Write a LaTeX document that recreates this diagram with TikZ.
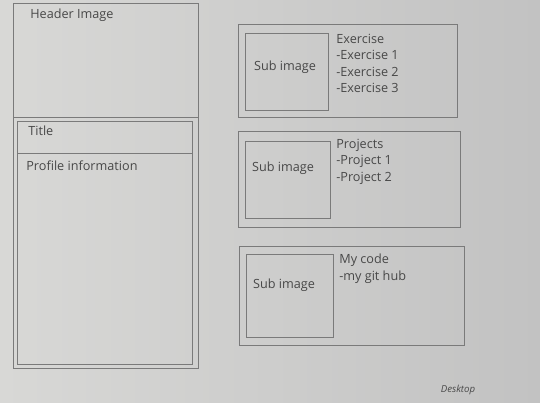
\documentclass[tikz,border=0pt]{standalone}
\usepackage{fontspec}
\setmainfont{Open Sans}
\usepackage{tikz}
\usetikzlibrary{positioning}
\definecolor{paper}{RGB}{206, 206, 204}
\definecolor{paperlight}{RGB}{216, 216, 214}
\definecolor{paperdark}{RGB}{194, 194, 194}
\definecolor{wireline}{RGB}{122, 122, 122}
\definecolor{wiretext}{RGB}{72, 72, 72}

\begin{document}
\begin{tikzpicture}[
    y=-1cm,
    wire/.style={rectangle, draw=wireline, line width=0.6pt, anchor=north west, inner sep=0pt, minimum width=#1},
    txt/.style={text=wiretext, font=\fontsize{7.2}{9.3}\selectfont, inner sep=0pt},
    list/.style={txt, anchor=north west, align=left},
    every node/.style={font=\fontsize{7.2}{9.3}\selectfont}
]
% paper background
\shade[left color=paperlight, right color=paperdark] (0,0) rectangle (10.8,8.06);
\useasboundingbox (0,0) rectangle (10.8,8.06);

% left column: header + sidebar
\node[wire=3.70cm, minimum height=2.28cm] (header) at (0.26, 0.06) {};
\node[wire=3.70cm, minimum height=5.02cm] (sidebar) at (0.26, 2.34) {};
\node[wire=3.50cm, minimum height=0.64cm] (title) at (0.33, 2.42) {};
\node[wire=3.50cm, minimum height=4.22cm] (profile) at (0.33, 3.06) {};

\node[txt, anchor=west] (headertxt) at (0.60, 0.30) {Header Image};
\node[txt, anchor=west] (titletxt) at (0.56, 2.61) {Title};
\node[txt, anchor=west] (profiletxt) at (0.52, 3.31) {Profile information};

% right column: three cards
\node[wire=4.38cm, minimum height=1.86cm] (card1) at (4.76, 0.48) {};
\node[wire=1.66cm, minimum height=1.54cm] (sub1) at (4.90, 0.66) {};
\node[txt] (sub1txt) at (5.70, 1.34) {Sub image};
\node[list] (list1) at (6.72, 0.68) {Exercise\\-Exercise 1\\-Exercise 2\\-Exercise 3};

\node[wire=4.44cm, minimum height=1.92cm] (card2) at (4.76, 2.62) {};
\node[wire=1.70cm, minimum height=1.54cm] (sub2) at (4.90, 2.82) {};
\node[txt] (sub2txt) at (5.66, 3.36) {Sub image};
\node[list] (list2) at (6.72, 2.78) {Projects\\-Project 1\\-Project 2};

\node[wire=4.50cm, minimum height=1.98cm] (card3) at (4.78, 4.92) {};
\node[wire=1.74cm, minimum height=1.66cm] (sub3) at (4.92, 5.08) {};
\node[txt] (sub3txt) at (5.68, 5.70) {Sub image};
\node[list] (list3) at (6.78, 5.08) {My code\\-my git hub};

% handwritten note
\node[txt, font=\fontsize{5.5}{6}\selectfont\itshape] (device) at (9.16, 7.80) {Desktop};

\end{tikzpicture}
\end{document}
